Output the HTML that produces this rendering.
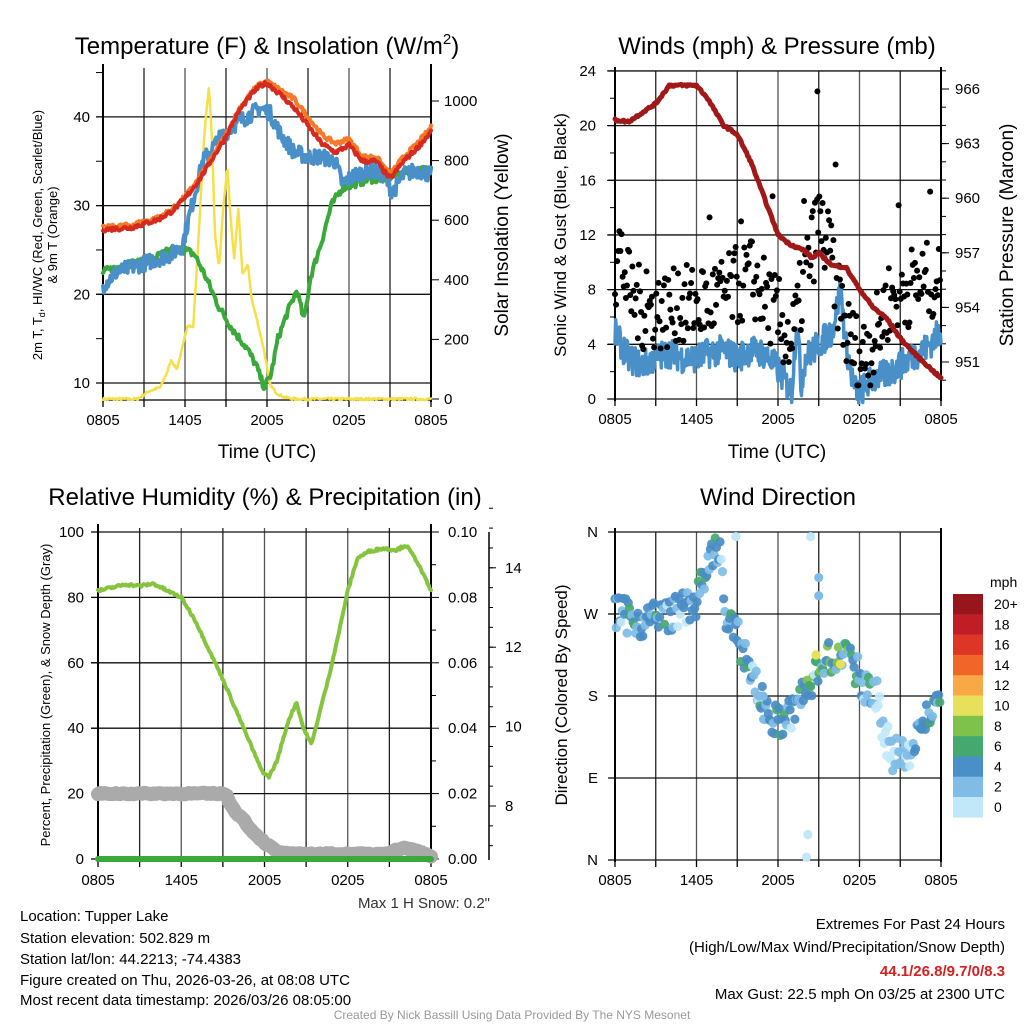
<!DOCTYPE html>
<html><head><meta charset="utf-8">
<style>
html,body{margin:0;padding:0;background:#fff;}
svg{display:block;font-family:"Liberation Sans",sans-serif;}
</style></head>
<body>
<svg id="s" width="1024" height="1024" viewBox="0 0 1024 1024" xmlns="http://www.w3.org/2000/svg">
<rect width="1024" height="1024" fill="#fff"/>
<g id="g"></g>
<text x="267" y="54" font-size="24" text-anchor="middle">Temperature (F) &amp; Insolation (W/m<tspan font-size="15" dy="-10">2</tspan><tspan dy="10">)</tspan></text>
<text x="777" y="54" font-size="24" text-anchor="middle">Winds (mph) &amp; Pressure (mb)</text>
<text x="265" y="505" font-size="24" text-anchor="middle">Relative Humidity (%) &amp; Precipitation (in)</text>
<text x="778" y="505" font-size="24" text-anchor="middle">Wind Direction</text>
<text x="267" y="458" font-size="19" text-anchor="middle">Time (UTC)</text>
<text x="777" y="458" font-size="19" text-anchor="middle">Time (UTC)</text>
<text transform="translate(42,235) rotate(-90)" font-size="13" text-anchor="middle">2m T, T<tspan font-size="9" dy="3">d</tspan><tspan dy="-3">, HI/WC (Red, Green, Scarlet/Blue)</tspan></text>
<text transform="translate(57,235) rotate(-90)" font-size="13" text-anchor="middle">&amp; 9m T (Orange)</text>
<text transform="translate(508,235) rotate(-90)" font-size="19" text-anchor="middle">Solar Insolation (Yellow)</text>
<text transform="translate(566,235) rotate(-90)" font-size="17" text-anchor="middle">Sonic Wind &amp; Gust (Blue, Black)</text>
<text transform="translate(1013,235) rotate(-90)" font-size="19" text-anchor="middle">Station Pressure (Maroon)</text>
<text transform="translate(50,695) rotate(-90)" font-size="13" text-anchor="middle">Percent, Precipitation (Green), &amp; Snow Depth (Gray)</text>
<text transform="translate(567,695) rotate(-90)" font-size="17" text-anchor="middle">Direction (Colored By Speed)</text>
<g font-size="15">
<text x="20" y="921">Location: Tupper Lake</text>
<text x="20" y="943">Station elevation: 502.829 m</text>
<text x="20" y="964">Station lat/lon: 44.2213; -74.4383</text>
<text x="20" y="985">Figure created on Thu, 2026-03-26, at 08:08 UTC</text>
<text x="20" y="1005">Most recent data timestamp: 2026/03/26 08:05:00</text>
<text x="490" y="908" text-anchor="end" fill="#333">Max 1 H Snow: 0.2"</text>
<text x="1005" y="929" text-anchor="end">Extremes For Past 24 Hours</text>
<text x="1005" y="952" text-anchor="end">(High/Low/Max Wind/Precipitation/Snow Depth)</text>
<text x="1005" y="976" text-anchor="end" fill="#d42020" font-weight="bold">44.1/26.8/9.7/0/8.3</text>
<text x="1005" y="999" text-anchor="end">Max Gust: 22.5 mph On 03/25 at 2300 UTC</text>
</g>
<text x="512" y="1019" font-size="12" text-anchor="middle" fill="#999">Created By Nick Bassill Using Data Provided By The NYS Mesonet</text>
</svg>
<script>
(function(){
var NS="http://www.w3.org/2000/svg",G=document.getElementById("g");
function el(n,a,t){var e=document.createElementNS(NS,n);for(var k in a)e.setAttribute(k,a[k]);if(t!=null)e.textContent=t;G.appendChild(e);return e;}
var seed=7;function rnd(){seed=(seed*16807)%2147483647;return (seed-1)/2147483646;}
function interp(kp,t){for(var i=0;i<kp.length-1;i++){if(t<=kp[i+1][0]){var a=kp[i],b=kp[i+1],f=(t-a[0])/(b[0]-a[0]||1);return a[1]+(b[1]-a[1])*f;}}return kp[kp.length-1][1];}
function series(kp,xf,yf,noise,n){var p=[];n=n||300;for(var i=0;i<=n;i++){var t=24*i/n;var v=interp(kp,t)+(rnd()-0.5)*noise;p.push(xf(t).toFixed(1)+","+yf(v).toFixed(1));}return p.join(" ");}
function line(pts,c,w){el("polyline",{points:pts,fill:"none",stroke:c,"stroke-width":w,"stroke-linejoin":"round","stroke-linecap":"round"});}
var xt=["0805","1405","2005","0205","0805"];
function frame(x0,x1,y0,y1,hy){
  for(var i=0;i<=8;i++){var x=x0+(x1-x0)*i/8;el("line",{x1:x,y1:y0,x2:x,y2:y1,stroke:i%2?"#222":"#555","stroke-width":1.3});el("line",{x1:x,y1:y1,x2:x,y2:y1+7,stroke:"#000","stroke-width":1.3});}
  for(var j=0;j<hy.length;j++)el("line",{x1:x0-7,y1:hy[j],x2:x1,y2:hy[j],stroke:"#111","stroke-width":1.3});
  for(var i=0;i<5;i++){el("text",{x:x0+(x1-x0)*i/4,y:y1+25,"font-size":15,"text-anchor":"middle"},xt[i]);}
  el("line",{x1:x0,y1:y0-4,x2:x0,y2:y1+2,stroke:"#000","stroke-width":2});
  el("line",{x1:x1,y1:y0-4,x2:x1,y2:y1+2,stroke:"#000","stroke-width":2});
}
function lab(x,y,t,anc){el("text",{x:x,y:y+5,"font-size":15,"text-anchor":anc||"end"},t);}
// ===== Panel 1 =====
var X1=function(t){return 103+t*328/24;};
var Y1=function(v){return 383-(v-10)*8.87;};
var YS=function(v){return 399-v*0.298;};
frame(103,431,68,400,[Y1(10),Y1(20),Y1(30),Y1(40)]);
el("line",{x1:103,y1:400,x2:431,y2:400,stroke:"#000","stroke-width":1.3});
[10,20,30,40].forEach(function(v){lab(90,Y1(v),v);});
for(var v=10;v<=45;v+=5)el("line",{x1:96,y1:Y1(v),x2:103,y2:Y1(v),stroke:"#000"});
[0,200,400,600,800,1000].forEach(function(v){el("line",{x1:431,y1:YS(v),x2:439,y2:YS(v),stroke:"#000"});lab(444,YS(v),v,"start");});
var sol=[[0,0],[2.5,0],[2.8,8],[3.3,25],[4.2,40],[4.6,80],[5,130],[5.4,100],[5.8,170],[6.2,250],[6.6,240],[7,550],[7.4,880],[7.75,1050],[7.95,900],[8.2,550],[8.5,440],[8.8,640],[9.1,780],[9.35,600],[9.6,470],[9.9,640],[10.2,420],[10.6,450],[10.9,330],[11.3,260],[11.8,160],[12.2,50],[12.7,20],[13.3,5],[14,0],[24,0]];
line(series(sol,X1,YS,8,400),"#f5e04a",2.5);
var grn=[[0,22.5],[1,23],[2,23.5],[3,23.6],[4,24.3],[5,25],[6,25],[6.7,24.5],[7.5,22],[8.5,18.5],[9.5,16],[10.5,14],[11.2,12],[11.8,9.5],[12.3,11],[12.8,15],[13.5,18],[14.2,20.5],[14.7,17],[15.2,22],[16,26],[16.7,30],[17.5,32],[18.5,32.5],[19.5,33],[20.5,33],[21.5,33.5],[22.5,34],[24,34]];
line(series(grn,X1,Y1,0.9),"#3aa83a",4);
var blu=[[0,21],[1,22.5],[2,23],[3,23.5],[4,24],[5,24.5],[5.8,25.5],[6.5,30],[7.3,35],[8.5,37.5],[9.5,39],[10.5,40],[11.5,41],[12.2,40.5],[13,38],[14,36],[15,35.5],[16,35.5],[17,35],[17.5,32.5],[18.5,33.5],[19.5,34],[20.5,33.5],[21.2,31.5],[22,33.5],[23,34],[24,33.5]];
line(series(blu,X1,Y1,1.8,400),"#4a90c8",4);
var org=[[0,27.5],[2,27.8],[4,28.6],[5,29.5],[6,31],[7,33],[8,35.5],[9,38],[10,41],[11,43],[11.5,43.7],[12,44],[13,43],[14,42],[15,40],[16,38],[17,37],[18,37.5],[19,35.5],[20,35.5],[21,33.5],[22,35.5],[23,37],[24,38.8]];
line(series(org,X1,Y1,0.5),"#f47a2a",4);
var red=[[0,27.3],[2,27.5],[4,28.4],[5,29.3],[6,30.8],[7,32.8],[8,35.3],[9,37.8],[10,40.8],[11,42.8],[11.5,43.5],[12,43.8],[13,42.5],[14,41],[15,39],[16,37],[17,36],[18,36.8],[19,35],[20,35],[21,33],[22,35],[23,36.5],[24,38.3]];
line(series(red,X1,Y1,0.5),"#d42a20",4);
// ===== Panel 2 =====
var X2=function(t){return 615+t*326/24;};
var Y2=function(v){return 399-v*13.67;};
var YP=function(p){return 362-(p-951)*18.2;};
var hy2=[];for(var v=0;v<=24;v+=4)hy2.push(Y2(v));
frame(615,941,71,399,hy2);
[0,4,8,12,16,20,24].forEach(function(v){lab(596,Y2(v),v);el("line",{x1:607,y1:Y2(v),x2:615,y2:Y2(v),stroke:"#000"});});
for(var v=2;v<24;v+=4)el("line",{x1:610,y1:Y2(v),x2:615,y2:Y2(v),stroke:"#000"});
[951,954,957,960,963,966].forEach(function(p){el("line",{x1:941,y1:YP(p),x2:949,y2:YP(p),stroke:"#000"});lab(955,YP(p),p,"start");});
for(var p=950;p<=967;p++)el("line",{x1:941,y1:YP(p),x2:946,y2:YP(p),stroke:"#000"});
var wnd=[[0,4.8],[1,3],[2,2.5],[3,3],[4,3.4],[5,3],[6,3],[7,3.4],[8,3.6],[9,3],[10,3.6],[11,3.3],[12,2.2],[13,0.5],[13.4,6],[13.7,1],[14,3],[15,4],[16,5],[16.6,8],[17,4],[17.6,0.8],[18,0.5],[19,1.5],[20,1.8],[21,2.5],[22,3.2],[23,3.8],[24,5]];
line(series(wnd,X2,Y2,2.2,500),"#4a90c8",3.5);
for(var i=0;i<300;i++){var t=24*i/300;var b=interp([[0,8],[0.3,11],[1,8],[2,6.5],[4,6.5],[6,7],[8,7.5],[10,9],[12,6],[13,4],[14,9],[15,13],[16,10],[17,5],[18,3],[19,4],[20,7],[21,8],[24,9]],t);var g=b+(rnd()-0.5)*6;if(i%29==0)g+=rnd()*7;if(g<1)g=1;el("circle",{cx:X2(t),cy:Y2(g),r:3,fill:"#000"});}
el("circle",{cx:X2(14.9),cy:Y2(22.5),r:3,fill:"#000"});
var prs=[[0,964.3],[1,964.2],[2,964.7],[3,965.2],[4,966.2],[5,966.2],[6,966.2],[6.8,965.5],[8,964],[9,963.5],[10,962],[11,960],[12,958],[12.8,957.5],[14,957.1],[14.5,956.7],[15,957],[16,956.3],[17,956.2],[18,955],[19,954],[20,953.4],[21,952.3],[22,951.5],[23,950.8],[24,950.1]];
line(series(prs,X2,YP,0.12),"#a01818",5);
// ===== Panel 3 =====
var X3=function(t){return 98+t*333/24;};
var Y3=function(v){return 859-v*3.27;};
var hy3=[];for(var v=0;v<=100;v+=20)hy3.push(Y3(v));
frame(98,431,528,860,hy3);
[0,20,40,60,80,100].forEach(function(v){lab(84,Y3(v),v);el("line",{x1:91,y1:Y3(v),x2:98,y2:Y3(v),stroke:"#000"});});
["0.00","0.02","0.04","0.06","0.08","0.10"].forEach(function(s,i){var y=Y3(i*20);el("line",{x1:431,y1:y,x2:439,y2:y,stroke:"#000"});lab(448,y,s,"start");});
for(var v=10;v<=90;v+=20)el("line",{x1:431,y1:Y3(v),x2:436,y2:Y3(v),stroke:"#000"});
el("line",{x1:489,y1:532,x2:489,y2:860,stroke:"#000","stroke-width":1.5});
var YSn=function(s){return 806-(s-8)*39.7;};
[8,10,12,14].forEach(function(s){el("line",{x1:489,y1:YSn(s),x2:496,y2:YSn(s),stroke:"#000"});lab(505,YSn(s),s,"start");});
for(var s=7;s<=15.5;s+=0.5)el("line",{x1:489,y1:YSn(s),x2:493,y2:YSn(s),stroke:"#000"});
var snw=[[0,20],[9.2,20],[9.5,17],[10,14],[10.5,12],[11,9],[11.5,7],[12,5],[13,2],[14,1.5],[16,1.6],[20,1.5],[21,2],[22,3.5],[23,2.5],[24,1]];
line(series(snw,X3,Y3,0.5,150),"#aaaaaa",14);
line("98,859 431,859","#3aa83a",6);
var rh=[[0,82],[1,83],[2,84],[3,83.5],[4,84.2],[5,82],[6,80],[7,73],[8,64],[9,55],[10,45],[11,35],[11.8,27],[12.3,25],[12.9,30],[13.7,42],[14.3,48],[14.8,40],[15.4,35],[15.8,42],[16.6,55],[17.4,70],[18,82],[18.7,92],[19.5,94],[20.5,95],[21.5,94.5],[22.2,96],[23,91],[24,82]];
line(series(rh,X3,Y3,0.8),"#86c440",4);
// ===== Panel 4 =====
var X4=function(t){return 615+t*326/24;};
var Y4=function(d){return 860-d*328/360;};
var hy4=[];for(var d=0;d<=360;d+=90)hy4.push(Y4(d));
frame(615,941,532,860,hy4);
["N","E","S","W","N"].forEach(function(s,i){var y=Y4(i*90);lab(598,y,s);el("line",{x1:608,y1:y,x2:615,y2:y,stroke:"#000"});});
var cols=["#c0e8f8","#7fbde6","#4a8cc4","#45a86e","#7ec24c","#e6e05a"];
var dk=[[0,272],[2,262],[4,270],[5,275],[6,285],[6.5,305],[7.1,330],[7.7,350],[8.1,265],[9,245],[10,210],[11,165],[12,150],[13,160],[14,185],[15,210],[16,225],[17,232],[17.6,215],[18.3,190],[19.2,185],[19.8,140],[20.5,115],[21.5,115],[22.5,150],[23.5,165],[24,162]];
for(var i=0;i<270;i++){var t=24*i/270;var d=interp(dk,t)+(rnd()-0.5)*38;var r=rnd();var c=r<0.55?cols[2]:r<0.85?cols[1]:r<0.9?cols[0]:cols[3];if(t>14&&t<18&&rnd()<0.35)c=rnd()<0.6?cols[3]:cols[4];if(t>19&&t<22)c=rnd()<0.55?cols[0]:cols[1];el("circle",{cx:X4(t),cy:Y4(d),r:4.6,fill:c,"fill-opacity":0.92});}
[[14.8,225],[16.6,215]].forEach(function(p){el("circle",{cx:X4(p[0]),cy:Y4(p[1]),r:4.6,fill:cols[5]});});
[[8.9,355],[14.4,355],[15,310],[15,290],[14.2,28],[14.1,3],[10.6,180],[10.9,180]].forEach(function(p){el("circle",{cx:X4(p[0]),cy:Y4(p[1]),r:4.6,fill:(p[1]>340||p[1]<40)?cols[0]:cols[1]});});
var cb=["#96161c","#bf1e26","#dd3526","#f26529","#f8a845","#e6e05a","#7ec24c","#45a86e","#4a90c8","#7fbde6","#c0e8f8"];
var cl=["20+","18","16","14","12","10","8","6","4","2","0"];
el("text",{x:990,y:587,"font-size":14},"mph");
for(var i=0;i<11;i++){var y=594+i*20.3;el("rect",{x:953,y:y,width:30,height:20.6,fill:cb[i]});el("text",{x:994,y:y+15,"font-size":14},cl[i]);}
})();
</script>
</body></html>
